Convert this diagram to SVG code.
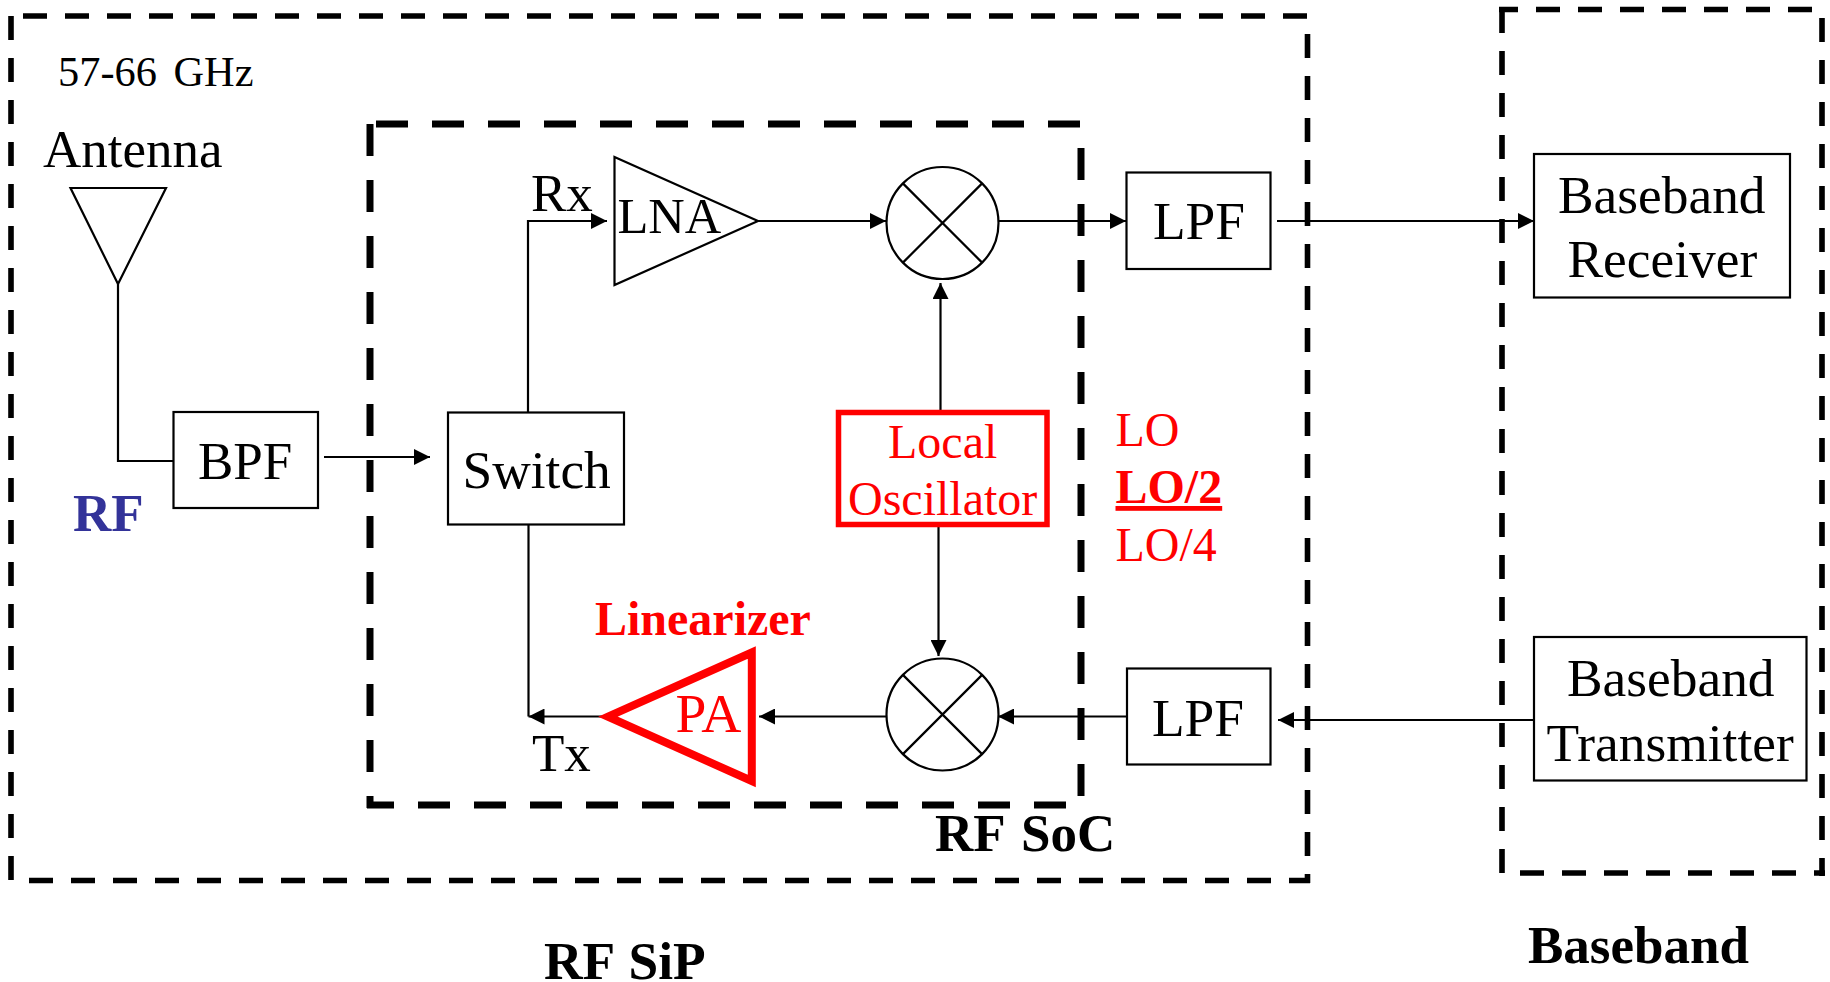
<svg xmlns="http://www.w3.org/2000/svg" width="1830" height="982" viewBox="0 0 1830 982">
<style>
text{font-family:"Liberation Serif","Times New Roman",serif;font-size:53px;fill:#000}
.b{font-weight:bold}
.r{fill:#f00}
.s47{font-size:48px}
.s53{font-size:53.400px}
.shape{fill:#fff;stroke:#000;stroke-width:2.2}
.thin{fill:none;stroke:#000;stroke-width:2.2}
.out{fill:none;stroke:#000;stroke-width:5.6;stroke-dasharray:24 18}
.soc{fill:none;stroke:#000;stroke-width:7;stroke-dasharray:32 24}
.c{fill:none;stroke:#000;stroke-width:2.2}
</style>
<defs>
<marker id="a" markerUnits="userSpaceOnUse" markerWidth="16" markerHeight="16" refX="16" refY="8" orient="auto"><path d="M0 0L16 8L0 16Z" fill="#000"/></marker>
</defs>
<g id="rf-sip-frame">
<line class="out" x1="23" y1="16" x2="1308" y2="16"/>
<line class="out" x1="11" y1="16" x2="11" y2="884"/>
<line class="out" x1="1307.500" y1="34" x2="1307.500" y2="883"/>
<line class="out" x1="29" y1="880.500" x2="1310" y2="880.500"/>
</g>
<g id="baseband-frame">
<line class="out" x1="1499" y1="9.500" x2="1812" y2="9.500" stroke-dashoffset="5"/>
<line class="out" x1="1502" y1="9" x2="1502" y2="876"/>
<line class="out" x1="1822" y1="18" x2="1822" y2="876"/>
<line class="out" x1="1825" y1="873" x2="1502" y2="873" stroke-dashoffset="13"/>
</g>
<g id="rf-soc-frame">
<line class="soc" x1="376" y1="124" x2="1080" y2="124"/>
<line class="soc" x1="370" y1="124" x2="370" y2="808"/>
<line class="soc" x1="1081" y1="148" x2="1081" y2="796"/>
<line class="soc" x1="367" y1="805" x2="1067" y2="805" stroke-dashoffset="5"/>
</g>
<g id="connectors">
<path class="c" d="M118 284V461H173"/>
<path class="c" d="M324 457H430" marker-end="url(#a)"/>
<path class="c" d="M528 412V221H607" marker-end="url(#a)"/>
<path class="c" d="M758 221H886" marker-end="url(#a)"/>
<path class="c" d="M998 221H1126" marker-end="url(#a)"/>
<path class="c" d="M1277 221H1534" marker-end="url(#a)"/>
<path class="c" d="M940.500 410V283" marker-end="url(#a)"/>
<path class="c" d="M938.500 527V656" marker-end="url(#a)"/>
<path class="c" d="M1536 720H1278" marker-end="url(#a)"/>
<path class="c" d="M1127 716.500H998" marker-end="url(#a)"/>
<path class="c" d="M887 716.500H759" marker-end="url(#a)"/>
<path class="c" d="M528.500 525V716.500" />
<path class="c" d="M606 716.500H528.500" marker-end="url(#a)"/>
</g>
<g id="freq"><text x="58" y="86" style="font-size:42.400px;word-spacing:6px">57-66 GHz</text></g>
<g id="antenna"><path class="shape" d="M70.500 188H166L118 284Z"/><text x="43" y="166.500">Antenna</text></g>
<g id="rf-label"><text class="b" x="73" y="531" style="fill:#333399">RF</text></g>
<g id="bpf"><rect class="shape" x="173.500" y="412" width="144.500" height="96"/><text x="198" y="478.500">BPF</text></g>
<g id="switch"><rect class="shape" x="448" y="412.500" width="176" height="112"/><text x="462.500" y="488" class="s53">Switch</text></g>
<g id="rx-label"><text x="531" y="211">Rx</text></g>
<g id="lna"><path class="shape" d="M614.500 157L758 221L614.500 285Z"/><text x="617.500" y="233" style="font-size:50.500px">LNA</text></g>
<g id="mixer-rx"><circle class="shape" cx="942.500" cy="223" r="56"/><path class="thin" d="M902.900 183.400L982.100 262.600M982.100 183.400L902.900 262.600"/></g>
<g id="lpf-rx"><rect class="shape" x="1126.500" y="172.500" width="144" height="96.500"/><text x="1153" y="239" class="s53">LPF</text></g>
<g id="lo"><rect fill="#fff" stroke="#f00" stroke-width="5.500" x="838.500" y="412.500" width="208.500" height="112"/><text class="r s47" x="888" y="457.500">Local</text><text class="r s47" x="848" y="515">Oscillator</text></g>
<g id="lo-labels"><text class="r s47" x="1115.500" y="445.500">LO</text><text class="r b s47" x="1115.500" y="503" text-decoration="underline">LO/2</text><text class="r s47" x="1115.500" y="560.500">LO/4</text></g>
<g id="mixer-tx"><circle class="shape" cx="942.500" cy="714.500" r="56"/><path class="thin" d="M902.900 674.900L982.100 754.100M982.100 674.900L902.900 754.100"/></g>
<g id="lpf-tx"><rect class="shape" x="1127" y="668.500" width="143.500" height="96"/><text x="1152" y="735.500" class="s53">LPF</text></g>
<g id="pa"><path fill="#fff" stroke="#f00" stroke-width="8" d="M608 716.700L751.800 652.500V781Z"/><text class="r" x="675.500" y="732" style="font-size:55.500px">PA</text></g>
<g id="linearizer"><text class="r b s47" x="595" y="635">Linearizer</text></g>
<g id="tx-label"><text x="532" y="770.500">Tx</text></g>
<g id="rf-soc-label"><text class="b" x="935" y="850.500" style="word-spacing:4px">RF SoC</text></g>
<g id="rf-sip-label"><text class="b s53" x="544" y="978.500" style="word-spacing:2px">RF SiP</text></g>
<g id="baseband-rx"><rect class="shape" x="1534" y="154" width="256" height="143.500"/><text class="s53" x="1558" y="212.500">Baseband</text><text class="s53" x="1567.500" y="276.500">Receiver</text></g>
<g id="baseband-tx"><rect class="shape" x="1534" y="637" width="272.500" height="143.500"/><text class="s53" x="1567" y="696">Baseband</text><text class="s53" x="1546.500" y="760.500">Transmitter</text></g>
<g id="baseband-label"><text class="b" x="1528" y="962.500">Baseband</text></g>
</svg>
